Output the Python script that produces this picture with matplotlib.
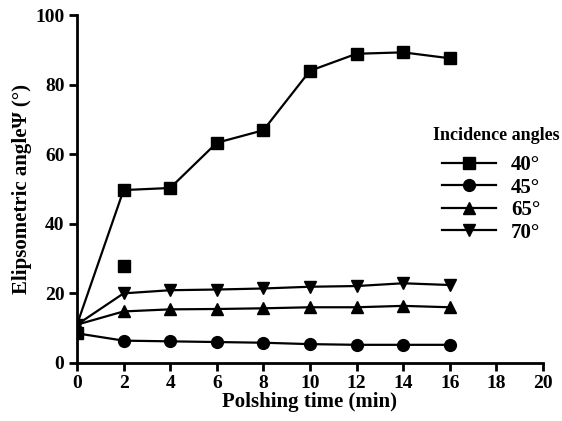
import matplotlib
matplotlib.use("Agg")
import matplotlib.pyplot as plt

plt.rcParams["font.family"] = ["Liberation Serif", "DejaVu Serif"]
plt.rcParams["font.weight"] = "bold"

time = [0, 2, 4, 6, 8, 10, 12, 14, 16]
psi_40 = [11, 49.7, 50.3, 63.3, 66.9, 84, 88.9, 89.3, 87.6]
psi_45 = [8.5, 6.4, 6.2, 6.0, 5.8, 5.4, 5.2, 5.2, 5.2]
psi_65 = [11, 14.8, 15.4, 15.5, 15.7, 16.0, 16.0, 16.4, 16.0]
psi_70 = [11, 20.0, 20.9, 21.1, 21.4, 21.9, 22.1, 22.9, 22.4]
# stray 40 deg points off the line
stray_t = [0, 2]
stray_psi = [8.5, 28]

labels = ["40°", "45°", "65°", "70°"]
markers = ["s", "o", "^", "v"]

fig = plt.figure(figsize=(5.62, 4.21), dpi=100)
ax = fig.add_axes([0.137, 0.138, 0.829, 0.826])

series = [psi_40, psi_45, psi_65, psi_70]
handles = []
for ys, m, lab in zip(series, markers, labels):
    every = slice(1, None) if lab == "40°" else None
    h, = ax.plot(time, ys, color="black", lw=1.6, marker=m, markersize=8.5,
                 markevery=every, label=lab)
    handles.append(h)
ax.plot(stray_t, stray_psi, ls="none", marker="s", color="black", markersize=8.5)

ax.set_xlim(0, 20)
ax.set_ylim(0, 100)
ax.set_xticks(range(0, 21, 2))
ax.set_yticks(range(0, 101, 20))
for s in ["top", "right"]:
    ax.spines[s].set_visible(False)
for s in ["left", "bottom"]:
    ax.spines[s].set_linewidth(2)
ax.tick_params(width=2, length=6, labelsize=14, pad=3)
ax.set_xlabel("Polshing time (min)", fontsize=15, fontweight="bold", labelpad=0)
ax.set_ylabel("Elipsometric angleΨ (°)", fontsize=15, fontweight="bold", labelpad=2)

fig.text(0.770, 0.679, "Incidence angles", fontsize=13, fontweight="bold",
         ha="left", va="center")
leg = fig.legend(handles=handles, loc="upper left", bbox_to_anchor=(0.768, 0.656),
                 frameon=False, fontsize=15, handlelength=2.6, labelspacing=0.12,
                 borderpad=0, handletextpad=0.7)

fig.savefig("out.png", dpi=100)
